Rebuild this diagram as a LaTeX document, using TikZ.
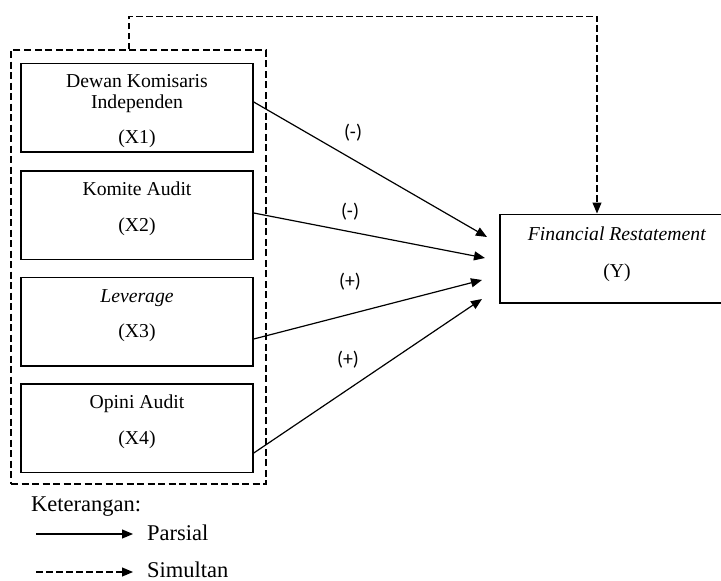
\documentclass[tikz,border=0pt]{standalone}
\usepackage{fontspec}
\setmainfont{Liberation Serif}
\newfontfamily\signfont{Carlito}
\usetikzlibrary{arrows.meta}

\begin{document}
\begin{tikzpicture}[x=1pt, y=-1pt,
        varbox/.style={draw, line width=1.5pt, minimum width=232pt, minimum height=88.5pt, inner sep=0pt},
        vartext/.style={anchor=north, align=center, inner sep=0pt, font=\fontsize{19.7}{21}\selectfont},
        grpbox/.style={draw, line width=1.3pt, dash pattern=on 7pt off 3.5pt, minimum width=255pt, minimum height=434pt, inner sep=0pt},
        sign/.style={font=\signfont\fontsize{19.7}{23}\selectfont},
        parsial/.style={line width=1.2pt, -{Triangle[length=11pt, width=9pt]}},
        simul/.style={line width=1.2pt, dash pattern=on 6.5pt off 3.5pt, -{Triangle[length=11pt, width=9pt]}},
        legtext/.style={anchor=base west, inner sep=0pt, font=\fontsize{22.5}{27}\selectfont}]
    \useasboundingbox (0,0) rectangle (721,581);

    % Variabel independen
    \node[grpbox] (grp) at (138.5,267) {};
    \node[varbox] (x1) at (137,107.5) {};
    \node[varbox] (x2) at (137,215) {};
    \node[varbox] (x3) at (137,321.5) {};
    \node[varbox] (x4) at (137,428) {};
    \node[vartext] (x1t) at ([yshift=-11.5pt]x1.north) {Dewan Komisaris\\Independen\\[14pt](X1)};
    \node[vartext] (x2t) at ([yshift=-11.5pt]x2.north) {Komite Audit\\[15pt](X2)};
    \node[vartext] (x3t) at ([yshift=-12.5pt]x3.north) {\textit{Leverage}\\[14pt](X3)};
    \node[vartext] (x4t) at ([yshift=-11.5pt]x4.north) {Opini Audit\\[15pt](X4)};

    % Variabel dependen
    \node[varbox, minimum width=222pt] (y) at (611,258.5) {};
    \node[vartext] (yt) at ([xshift=6pt, yshift=-13pt]y.north) {\textit{Financial Restatement}\\[16pt](Y)};

    % Pengaruh parsial
    \coordinate (e1) at (487,237);
    \coordinate (e2) at (485,258);
    \coordinate (e3) at (482,280);
    \coordinate (e4) at (482,299);
    \draw[parsial] ([yshift=5.5pt]x1.east) -- (e1);
    \draw[parsial] ([yshift=2pt]x2.east) -- (e2);
    \draw[parsial] ([yshift=-17.5pt]x3.east) -- (e3);
    \draw[parsial] ([yshift=-25pt]x4.east) -- (e4);
    \node[sign] (s1) at (353,133) {(-)};
    \node[sign] (s2) at (350,212) {(-)};
    \node[sign] (s3) at (350,282) {(+)};
    \node[sign] (s4) at (348,360) {(+)};

    % Pengaruh simultan
    \draw[simul] ([xshift=-9.5pt]grp.north) -- ++(0,-33) -| ([xshift=-14pt]y.north);

    % Keterangan
    \node[legtext] (ket) at (31,511) {Keterangan:};
    \coordinate (lp) at (36,534);
    \coordinate (lpe) at (133,534);
    \coordinate (ls) at (36,572);
    \coordinate (lse) at (133,572);
    \draw[parsial] (lp) -- (lpe);
    \draw[simul] (ls) -- (lse);
    \node[legtext] (tpar) at (147,540) {Parsial};
    \node[legtext] (tsim) at (147,577) {Simultan};
\end{tikzpicture}
\end{document}
